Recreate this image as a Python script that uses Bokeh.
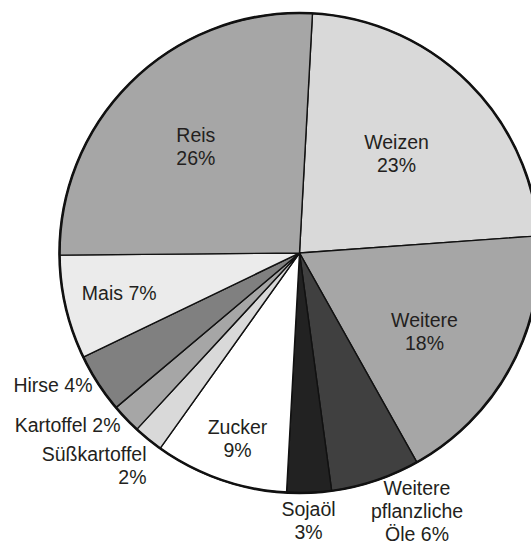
import math
from bokeh.plotting import figure
from bokeh.models import Range1d, ColumnDataSource
from bokeh.core.properties import value
from bokeh.embed import file_html
from bokeh.resources import INLINE

# ---- data ----
categories = ["Weizen", "Weitere", "Weitere pflanzliche Öle", "Sojaöl", "Zucker",
              "Süßkartoffel", "Kartoffel", "Hirse", "Mais", "Reis"]
shares = [23, 18, 6, 3, 9, 2, 2, 4, 7, 26]
label_texts = ["Weizen\n23%", "Weitere\n18%", "Weitere\npflanzliche\nÖle 6%", "Sojaöl\n3%",
               "Zucker\n9%", "Süßkartoffel\n2%", "Kartoffel 2%", "Hirse 4%", "Mais 7%", "Reis\n26%"]

# ---- styles / layout ----
colors = ["#d9d9d9", "#a6a6a6", "#404040", "#222222", "#ffffff",
          "#d9d9d9", "#a6a6a6", "#808080", "#ebebeb", "#a6a6a6"]
START_DEG = 3.1          # first boundary, clockwise from 12 o'clock
R = 240.0
# label anchor (x of alignment point, baseline of first line), pixel offsets from centre
label_pos = {
    "Weizen": (97, 111.5, "center"),
    "Weitere": (125, -66.5, "center"),
    "Weitere pflanzliche Öle": (117.5, -235, "center"),
    "Sojaöl": (9, -256, "center"),
    "Zucker": (-62, -173.5, "center"),
    "Süßkartoffel": (-153, -200.5, "right"),
    "Kartoffel": (-179, -171.5, "right"),
    "Hirse": (-207, -131.5, "right"),
    "Mais": (-180.3, -39.5, "center"),
    "Reis": (-103.7, 118.5, "center"),
}
LINE_H = 23
FONT = "Liberation Sans"
FSIZE = "19.5px"
TXT = "#231f20"

total = float(sum(shares))
starts, ends = [], []
acc = START_DEG
for v in shares:
    a0 = acc
    a1 = acc + v / total * 360.0
    acc = a1
    # bokeh angles: anticlockwise from +x
    starts.append(math.radians(90 - a1))
    ends.append(math.radians(90 - a0))

src = ColumnDataSource(dict(start=starts, end=ends, color=colors, cat=categories))

W, H = 531, 546
cx_px, cy_px = 299, 252.5
p = figure(width=W, height=H, output_backend="svg", toolbar_location=None,
           x_range=Range1d(-cx_px, W - cx_px), y_range=Range1d(-(H - cy_px), cy_px),
           min_border=0)
p.axis.visible = False
p.grid.visible = False
p.outline_line_color = None
p.background_fill_color = "white"
p.border_fill_color = "white"

p.wedge(x=0, y=0, radius=R, start_angle="start", end_angle="end", source=src,
        fill_color="color", line_color="#111111", line_width=1.4)
p.circle(x=[0], y=[0], radius=R, fill_color=None, line_color="#111111", line_width=2.6)

xs, ys, ts, aligns = [], [], [], []
for cat, lab in zip(categories, label_texts):
    lx, ly, al = label_pos[cat]
    for i, line in enumerate(lab.split("\n")):
        xs.append(lx)
        ys.append(ly - i * LINE_H)
        ts.append(line)
        aligns.append(al)

tsrc = ColumnDataSource(dict(x=xs, y=ys, t=ts, a=aligns))
p.text(x="x", y="y", text="t", text_align="a", text_baseline="alphabetic", source=tsrc,
       text_font=value(FONT), text_font_size=value(FSIZE), text_color=TXT)

open("out.html", "w").write(file_html(p, INLINE))
